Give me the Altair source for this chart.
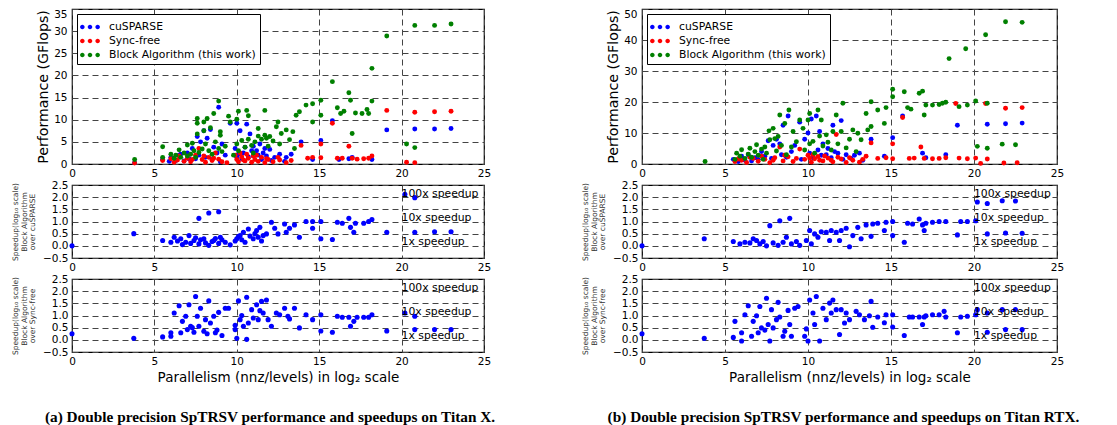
import altair as alt
import pandas as pd

SERIES = ["cuSPARSE", "Sync-free", "Block Algorithm (this work)"]
COLORS = ["#0000ff", "#ff0000", "#008000"]
X_TICKS = [0, 5, 10, 15, 20, 25]
SPEED_TICKS = [-0.5, 0.0, 0.5, 1.0, 1.5, 2.0, 2.5]
ANN_LABELS = ["100x speedup", "10x speedup", "1x speedup"]
ANN_LEVELS = [2.0, 1.0, 0.0]
ANN_X = [20.0, 20.0, 20.0]

# ---------- (a) Titan X : performance (GFlops) ----------
a_cusparse = [(3.8,0.3),(5.5,1.0),(5.9,0.6),(6.0,1.5),(6.3,0.8),(6.5,2.0),(6.6,2.2),(6.8,0.7),(7.0,2.5),(7.1,1.2),(7.3,3.5),(7.5,1.2),(7.6,6.2),(7.7,2.0),(7.8,5.0),(8.0,7.5),(8.1,1.5),(8.2,5.8),(8.4,7.8),(8.5,1.0),(8.6,3.8),(8.8,2.5),(8.9,12.8),(9.0,0.5),(9.1,4.5),(9.3,2.0),(9.6,9.2),(9.9,3.5),(10.0,9.2),(10.0,1.5),(10.1,2.2),(10.2,7.5),(10.3,1.2),(10.4,2.5),(10.5,3.8),(10.6,9.0),(10.7,1.6),(10.8,6.8),(10.9,3.0),(11.0,4.0),(11.0,1.8),(11.2,3.0),(11.3,2.0),(11.4,4.5),(11.5,1.0),(11.6,2.5),(11.7,3.5),(11.8,1.8),(12.0,3.3),(12.1,0.8),(12.3,1.5),(12.6,2.2),(12.9,0.6),(13.0,1.5),(13.3,2.2),(13.9,5.0),(14.6,1.0),(15.1,5.3),(15.8,9.8),(16.2,1.0),(16.8,1.2),(17.0,1.5),(18.2,1.0),(19.1,7.7),(20.8,7.9),(22.0,7.9),(23.0,8.0)]
a_syncfree = [(3.8,0.2),(5.5,0.8),(6.0,1.2),(6.2,0.4),(6.4,0.9),(6.5,1.8),(6.8,0.6),(7.0,1.3),(7.2,0.5),(7.3,1.0),(7.5,2.0),(7.7,3.5),(7.9,1.0),(8.0,1.8),(8.1,0.4),(8.3,1.5),(8.5,0.8),(8.6,1.3),(8.7,2.5),(8.9,1.1),(9.1,0.5),(9.4,0.3),(9.9,2.0),(10.0,1.0),(10.1,0.5),(10.2,2.5),(10.3,1.6),(10.4,0.9),(10.5,0.7),(10.6,2.2),(10.7,1.3),(10.9,0.4),(11.0,1.8),(11.1,1.0),(11.2,2.0),(11.3,0.6),(11.5,1.5),(11.7,0.3),(11.8,1.2),(11.9,1.0),(12.2,0.5),(12.5,1.5),(12.6,0.9),(13.0,0.3),(13.3,0.8),(13.9,4.2),(14.3,1.3),(14.6,1.5),(15.1,4.5),(15.1,1.4),(15.8,9.2),(16.1,1.3),(16.4,1.3),(16.8,4.0),(17.0,1.3),(17.3,1.1),(17.7,1.2),(18.0,1.3),(18.2,1.8),(19.1,12.1),(20.3,0.4),(20.8,11.7),(20.8,0.3),(22.0,11.8),(23.0,11.9)]
a_block = [(3.8,1.0),(5.5,1.5),(5.5,3.9),(6.0,2.2),(6.2,1.3),(6.3,2.0),(6.5,3.2),(6.6,1.5),(6.8,2.5),(7.0,4.3),(7.0,1.8),(7.2,2.2),(7.3,4.7),(7.4,3.0),(7.5,1.5),(7.6,9.2),(7.6,10.3),(7.6,6.8),(7.7,2.6),(7.9,3.4),(8.0,9.5),(8.0,7.5),(8.1,4.5),(8.2,10.3),(8.3,3.0),(8.4,8.2),(8.5,2.2),(8.6,11.4),(8.7,5.0),(8.9,14.2),(8.9,3.5),(9.0,7.3),(9.0,6.5),(9.1,2.8),(9.3,4.0),(9.5,10.8),(9.6,9.5),(9.8,2.0),(10.0,10.1),(10.0,4.5),(10.1,11.9),(10.1,3.0),(10.3,5.3),(10.5,3.8),(10.6,12.1),(10.7,10.9),(10.7,5.6),(10.9,4.2),(11.0,2.5),(11.1,5.0),(11.3,8.0),(11.3,6.3),(11.5,5.6),(11.7,12.1),(11.7,6.5),(11.8,5.8),(11.9,4.0),(12.0,6.2),(12.2,5.2),(12.4,8.4),(12.5,9.5),(12.6,4.5),(12.7,6.9),(13.0,7.7),(13.2,5.5),(13.4,7.3),(13.5,3.5),(13.6,11.0),(13.8,11.8),(14.2,13.3),(14.6,13.6),(14.6,9.5),(15.1,14.4),(15.1,11.0),(15.8,18.6),(16.1,12.7),(16.3,11.4),(16.5,11.9),(16.8,16.1),(16.9,14.4),(17.0,6.9),(17.2,11.5),(17.6,11.4),(17.9,12.3),(18.0,11.4),(18.2,21.6),(18.2,14.2),(19.1,28.9),(20.3,4.5),(20.8,3.7),(20.8,31.3),(22.0,31.3),(23.0,31.6)]

# ---------- (a) Titan X : log10 speedups ----------
a_speed_cusparse = [(0,0.0),(3.75,0.5),(5.5,0.22),(6.0,0.15),(6.2,0.35),(6.4,0.2),(6.6,0.29),(6.7,0.05),(6.9,0.15),(7.1,0.42),(7.2,0.1),(7.4,0.22),(7.5,0.33),(7.7,0.08),(7.7,1.13),(7.8,0.25),(8.0,0.29),(8.1,0.12),(8.3,0.02),(8.3,1.35),(8.5,0.18),(8.6,0.22),(8.7,0.3),(8.9,1.4),(8.9,0.1),(9.0,0.35),(9.1,0.25),(9.3,0.15),(9.6,0.04),(9.9,0.2),(10.0,0.29),(10.1,0.38),(10.2,0.42),(10.3,0.25),(10.4,0.56),(10.5,0.15),(10.7,0.69),(10.8,0.4),(11.0,0.29),(11.1,0.5),(11.2,0.63),(11.3,0.35),(11.4,0.76),(11.5,0.2),(11.6,0.42),(11.8,0.49),(12.1,0.97),(12.3,0.72),(12.5,0.49),(12.9,0.9),(13.0,0.56),(13.2,0.72),(13.5,0.86),(13.8,0.35),(14.2,1.0),(14.6,0.72),(14.6,1.0),(15.1,1.0),(15.1,0.29),(15.8,0.26),(16.1,0.97),(16.4,0.93),(16.8,1.13),(16.9,0.76),(17.1,0.56),(17.2,0.93),(17.7,0.93),(18.0,1.0),(18.2,1.08),(19.1,0.56),(20.2,2.12),(20.8,1.98),(20.8,0.56),(22.0,0.58),(23.0,0.58)]
a_speed_syncfree = [(0,0.25),(3.75,0.06),(5.5,0.12),(6.0,0.15),(6.0,0.29),(6.2,1.1),(6.5,1.4),(6.6,0.29),(6.7,0.76),(6.9,0.97),(7.0,0.42),(7.1,1.44),(7.2,0.56),(7.3,0.5),(7.4,0.31),(7.5,1.78),(7.6,0.97),(7.7,0.56),(7.8,1.3),(8.0,0.35),(8.1,0.83),(8.2,0.25),(8.3,1.6),(8.4,0.69),(8.6,0.97),(8.7,0.29),(8.8,0.4),(8.9,1.13),(9.1,0.18),(9.3,1.3),(9.5,1.3),(9.9,0.42),(9.9,0.6),(10.0,0.06),(10.1,1.6),(10.2,0.83),(10.3,1.0),(10.4,0.56),(10.6,1.75),(10.6,0.02),(10.7,0.69),(10.9,1.24),(11.0,0.9),(11.2,1.44),(11.3,0.83),(11.4,1.2),(11.5,1.58),(11.6,1.1),(11.8,1.64),(11.9,0.83),(12.1,0.56),(12.4,1.1),(12.6,1.03),(12.9,1.3),(13.1,0.97),(13.2,0.86),(13.5,1.3),(13.8,0.49),(14.2,1.03),(14.6,0.83),(15.1,1.03),(15.1,0.36),(15.8,0.31),(16.1,0.97),(16.4,0.93),(16.8,0.93),(16.9,0.56),(17.1,0.76),(17.3,0.93),(17.7,0.93),(18.0,0.93),(18.2,1.03),(19.1,0.36),(20.2,1.1),(20.8,0.97),(20.8,0.42),(22.0,0.42),(23.0,0.42)]

# ---------- (b) Titan RTX : performance (GFlops) ----------
b_cusparse = [(5.5,1.5),(5.8,0.8),(6.0,2.5),(6.2,1.2),(6.4,3.0),(6.6,1.0),(6.8,2.0),(7.0,1.5),(7.2,4.0),(7.4,2.5),(7.6,7.5),(7.8,1.8),(7.9,6.0),(8.1,8.0),(8.3,6.5),(8.4,3.0),(8.5,12.5),(8.7,2.2),(8.8,15.5),(9.0,4.0),(9.2,6.0),(9.5,13.5),(9.6,1.5),(9.8,8.0),(10.0,10.0),(10.1,3.5),(10.2,14.5),(10.3,2.0),(10.5,15.5),(10.6,4.5),(10.7,10.5),(10.8,2.8),(10.9,6.5),(11.1,3.0),(11.2,5.0),(11.4,2.0),(11.5,12.5),(11.6,4.0),(11.8,3.5),(12.0,14.0),(12.1,1.5),(12.3,3.0),(12.6,1.8),(12.8,2.8),(13.1,3.5),(13.3,1.2),(13.8,8.0),(14.6,2.5),(15.1,8.5),(15.7,15.5),(16.9,3.5),(17.1,2.0),(18.3,3.0),(19.0,12.5),(20.8,12.8),(21.9,13.0),(22.9,13.2)]
b_syncfree = [(5.6,0.8),(5.8,1.6),(6.0,1.2),(6.3,0.5),(6.5,2.2),(6.7,1.8),(7.0,0.9),(7.2,2.5),(7.4,1.5),(7.7,0.4),(7.9,1.2),(8.0,2.0),(8.3,5.5),(8.5,1.0),(8.6,2.8),(8.8,2.3),(9.1,0.8),(9.3,1.8),(9.5,4.8),(9.8,1.5),(10.0,2.8),(10.1,1.9),(10.2,0.6),(10.3,3.0),(10.4,1.7),(10.6,2.4),(10.7,1.2),(10.9,1.0),(11.0,2.6),(11.2,1.9),(11.4,1.2),(11.5,0.7),(11.7,9.5),(11.8,2.2),(12.0,1.6),(12.3,0.5),(12.5,2.0),(12.7,1.2),(13.1,0.6),(13.3,1.5),(13.5,2.5),(13.8,6.8),(14.2,1.8),(14.7,2.0),(15.1,6.5),(15.1,1.7),(15.7,15.0),(16.1,1.8),(16.4,1.9),(16.8,5.5),(17.0,1.8),(17.5,1.7),(17.9,1.8),(18.3,2.0),(18.9,19.5),(19.1,1.9),(19.6,1.7),(20.1,1.9),(20.4,0.2),(20.7,19.5),(20.8,1.6),(21.8,0.3),(21.9,18.0),(22.6,0.4),(22.9,18.2)]
b_block = [(3.8,0.8),(5.6,1.5),(5.7,3.5),(5.9,2.5),(6.0,4.6),(6.2,1.8),(6.4,3.2),(6.5,5.1),(6.6,2.2),(6.8,4.0),(6.9,6.2),(7.0,2.8),(7.2,4.8),(7.3,1.5),(7.4,5.5),(7.5,3.5),(7.65,10.7),(7.7,7.8),(7.9,11.5),(8.0,8.2),(8.1,4.2),(8.2,8.9),(8.3,15.8),(8.4,6.0),(8.6,13.1),(8.7,3.0),(8.85,17.4),(9.0,5.5),(9.1,10.5),(9.3,7.2),(9.5,14.2),(9.7,11.5),(9.8,4.5),(10.0,14.2),(10.1,16.3),(10.1,6.5),(10.3,7.3),(10.4,3.5),(10.6,17.4),(10.7,9.0),(10.8,14.2),(10.9,5.8),(11.1,9.4),(11.2,7.0),(11.4,4.5),(11.5,10.5),(11.7,15.8),(11.8,6.5),(12.0,10.5),(12.1,19.6),(12.3,5.2),(12.5,8.0),(12.7,11.0),(12.9,4.0),(13.0,9.9),(13.2,7.8),(13.5,16.3),(13.6,11.0),(13.8,20.1),(13.8,12.1),(14.2,17.4),(14.6,13.1),(14.7,18.2),(15.1,24.1),(15.1,21.7),(15.8,23.3),(16.0,18.2),(16.2,17.7),(16.7,22.8),(16.9,23.5),(17.0,15.8),(17.1,19.0),(17.5,19.0),(17.9,19.2),(18.1,19.6),(18.3,19.9),(18.5,34.0),(19.5,37.2),(19.1,18.5),(19.6,19.0),(20.1,20.3),(20.2,5.7),(20.8,5.1),(20.8,19.6),(20.7,41.7),(21.9,45.9),(22.9,45.7),(21.7,6.4),(22.5,6.2)]

# ---------- (b) Titan RTX : log10 speedups ----------
b_speed_cusparse = [(0,0.0),(3.75,0.29),(5.5,0.18),(5.9,0.08),(6.2,0.15),(6.5,0.12),(6.7,0.29),(6.9,0.22),(7.1,0.08),(7.3,0.18),(7.5,0.0),(7.7,0.83),(7.9,0.12),(8.2,0.02),(8.3,1.03),(8.5,0.15),(8.7,0.35),(8.9,1.13),(9.0,0.08),(9.3,0.18),(9.5,0.02),(9.9,0.22),(10.1,0.63),(10.2,0.08),(10.4,0.49),(10.6,0.35),(10.8,0.58),(11.1,0.56),(11.3,0.22),(11.4,0.63),(11.7,0.56),(11.9,0.22),(12.0,0.63),(12.3,0.72),(12.5,-0.04),(12.7,0.42),(13.0,0.76),(13.2,0.29),(13.5,0.86),(13.8,0.39),(13.9,0.9),(14.2,0.93),(14.6,0.63),(14.7,0.97),(15.1,1.0),(15.1,0.42),(15.8,0.15),(16.0,0.93),(16.3,0.9),(16.7,1.1),(16.9,0.86),(17.0,0.63),(17.1,0.93),(17.5,0.97),(17.9,1.0),(18.3,1.0),(19.0,0.45),(19.2,1.0),(19.6,1.0),(20.1,1.03),(20.2,1.8),(20.8,1.74),(20.8,0.49),(21.7,1.85),(21.9,0.53),(22.5,1.84),(22.9,0.52)]
b_speed_syncfree = [(0,0.25),(3.75,0.06),(5.5,0.1),(5.6,0.76),(6.0,0.29),(6.0,-0.05),(6.2,1.03),(6.4,1.4),(6.6,0.15),(6.7,0.76),(6.9,0.99),(7.0,0.29),(7.1,1.37),(7.2,0.49),(7.4,0.4),(7.5,1.71),(7.6,0.63),(7.7,-0.05),(7.8,1.24),(7.9,0.49),(8.1,0.83),(8.2,1.54),(8.3,0.94),(8.5,0.15),(8.6,0.35),(8.8,1.21),(8.9,0.63),(9.0,0.15),(9.2,1.3),(9.4,1.37),(9.8,0.15),(9.9,0.45),(10.0,-0.05),(10.1,1.64),(10.3,1.1),(10.4,0.63),(10.5,1.78),(10.7,-0.05),(10.9,1.3),(11.1,0.83),(11.3,1.51),(11.4,1.1),(11.5,1.64),(11.7,1.24),(11.9,0.22),(12.0,1.24),(12.2,0.69),(12.3,1.1),(12.5,0.83),(12.9,1.17),(13.1,1.03),(13.4,0.83),(13.7,0.99),(13.8,1.58),(13.9,0.52),(14.2,0.94),(14.6,0.7),(14.7,1.03),(15.1,0.53),(15.1,1.03),(15.8,0.18),(16.1,0.94),(16.3,0.94),(16.7,0.94),(16.9,0.63),(17.0,0.94),(17.1,0.99),(17.5,1.03),(17.9,1.03),(18.2,1.17),(18.3,0.94),(19.0,0.29),(19.2,0.94),(19.6,0.97),(20.1,1.03),(20.2,1.24),(20.8,1.1),(20.8,0.31),(21.7,1.24),(21.9,0.42),(22.5,1.24),(22.9,0.42)]

CAPTION_A = "(a) Double precision SpTRSV performance and speedups on Titan X."
CAPTION_B = "(b) Double precision SpTRSV performance and speedups on Titan RTX."

FONT = "DejaVu Sans"
PLOT_W_A, PLOT_W_B = 412, 415
TOP_H, SPEED_H = 155, 73

# three-dot legend glyph (matplotlib scatterpoints=3 look)
DOTS = ("M-1.1,0a0.25,0.25 0 1,0 0.5,0a0.25,0.25 0 1,0 -0.5,0Z "
        "M-0.25,0a0.25,0.25 0 1,0 0.5,0a0.25,0.25 0 1,0 -0.5,0Z "
        "M0.6,0a0.25,0.25 0 1,0 0.5,0a0.25,0.25 0 1,0 -0.5,0Z")


def x_enc(show_title=False):
    return alt.X("x:Q", scale=alt.Scale(domain=[0, 25], nice=False, zero=False),
                 axis=alt.Axis(values=X_TICKS, labelFlush=False, labelOverlap=False,
                               labelPadding=4,
                               title="Parallelism (nnz/levels) in log\u2082 scale" if show_title else None,
                               titleFontSize=13.5, titlePadding=4))


def perf_chart(series_points, ymax, ystep, width):
    rows = []
    for name, pts in zip(SERIES, series_points):
        for (xv, yv) in pts:
            rows.append({"x": xv, "y": yv, "series": name})
    df = pd.DataFrame(rows)
    yvals = list(range(0, ymax + 1, ystep))
    top_label_baseline = {"condition": {"test": f"datum.value >= {ymax}", "value": "top"},
                          "value": "middle"}
    return alt.Chart(df).mark_circle(size=24, opacity=1).encode(
        x=x_enc(),
        y=alt.Y("y:Q", scale=alt.Scale(domain=[0, ymax], nice=False),
                axis=alt.Axis(values=yvals, title="Performance (GFlops)", titleFontSize=14.2,
                              labelPadding=5, titlePadding=3,
                              labelBaseline=top_label_baseline)),
        color=alt.Color("series:N", sort=SERIES,
                        scale=alt.Scale(domain=SERIES, range=COLORS),
                        legend=alt.Legend(title=None, orient="none", legendX=5, legendY=5,
                                          fillColor="white", strokeColor="black", padding=4,
                                          labelFontSize=10.8, labelFont=FONT, labelColor="black",
                                          symbolType=DOTS, symbolSize=324, symbolStrokeWidth=0,
                                          symbolOpacity=1, rowPadding=0, labelOffset=10)),
    ).properties(width=width, height=TOP_H)


def speed_chart(points, over, width, show_xtitle=False, caption=None, cap_dx=0):
    df = pd.DataFrame({"x": [p[0] for p in points], "y": [p[1] for p in points]})
    ann = pd.DataFrame({"x": ANN_X, "y": ANN_LEVELS, "label": ANN_LABELS})
    xe = x_enc(show_xtitle)
    ye = alt.Y("y:Q", scale=alt.Scale(domain=[-0.5, 2.5], nice=False, zero=False),
               axis=alt.Axis(values=SPEED_TICKS, format=".1f",
                             title=["Speedup(log\u2081\u2080 scale)", "Block Algorithm", over],
                             titleFontSize=7.5, titleLineHeight=8.5, titleColor="#333",
                             labelPadding=4, titlePadding=6))
    pts = alt.Chart(df).mark_circle(size=26, color="#0000ff", opacity=1).encode(x=xe, y=ye)
    txt = alt.Chart(ann).mark_text(align="left", baseline="middle", dy=-3.5, fontSize=10.8,
                                   font=FONT, color="black").encode(x=xe, y=ye, text="label:N")
    ch = alt.layer(pts, txt).properties(width=width, height=SPEED_H)
    if caption:
        ch = ch.properties(title=alt.TitleParams(text=caption, orient="bottom", anchor="middle",
                                                 font="Liberation Serif", fontSize=15.3,
                                                 fontWeight="bold", color="black",
                                                 offset=26, dx=cap_dx))
    return ch


top_a = perf_chart([a_cusparse, a_syncfree, a_block], 35, 5, PLOT_W_A)
top_b = perf_chart([b_cusparse, b_syncfree, b_block], 50, 10, PLOT_W_B)
s1_a = speed_chart(a_speed_cusparse, "over cuSPARSE", PLOT_W_A)
s1_b = speed_chart(b_speed_cusparse, "over cuSPARSE", PLOT_W_B)
s2_a = speed_chart(a_speed_syncfree, "over Sync-free", PLOT_W_A, True, CAPTION_A, -8)
s2_b = speed_chart(b_speed_syncfree, "over Sync-free", PLOT_W_B, True, CAPTION_B, -6)

chart = alt.concat(top_a, top_b, s1_a, s1_b, s2_a, s2_b, columns=2,
                   spacing={"row": 21, "column": 158}, bounds="flush").resolve_scale(
    color="independent", x="independent", y="independent").resolve_legend(
    color="independent").properties(
    padding={"left": 2, "top": 0, "right": 0, "bottom": 0}
).configure(background="white").configure_axis(
    labelFont=FONT, labelFontSize=10.5, labelColor="black", titleFont=FONT,
    titleFontWeight="normal", titleColor="black", grid=True, gridColor="#444",
    gridDash=[6, 4], gridWidth=1, ticks=False, domain=False
).configure_view(stroke="black", strokeWidth=1.2)

chart.save("out.html", embed_options={"renderer": "svg", "actions": False})
